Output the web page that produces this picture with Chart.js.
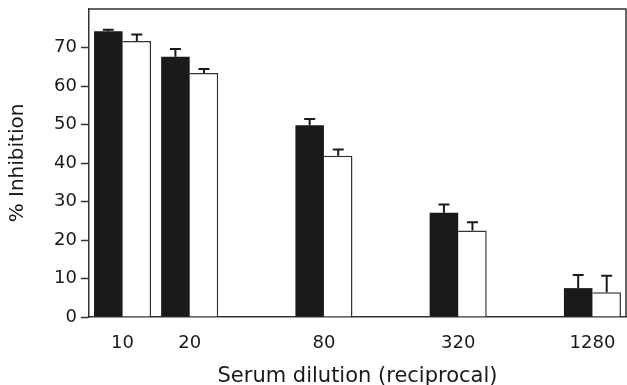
<!DOCTYPE html>
<html>
<head>
<meta charset="utf-8">
<script src="https://cdn.jsdelivr.net/npm/chart.js@4"></script>
<style>
  html, body { margin: 0; padding: 0; background: #fff; }
  #wrap { width: 627px; height: 385px; }
</style>
</head>
<body>
<div id="wrap"><canvas id="inhibChart"></canvas></div>
<script>
// dilution steps (doublings), only some were tested
const dilutions = ['10', '20', '40', '80', '160', '320', '640', '1280'];
const tested = ['10', '20', '80', '320', '1280'];

const filledVals = [74.2, 67.6, 49.8, 27.1, 7.5];
const filledErr  = [0.4, 2.0, 1.6, 2.1, 3.4];
const openVals   = [71.7, 63.4, 41.9, 22.5, 6.4];
const openErr    = [1.7, 1.0, 1.6, 2.1, 4.3];

const yTicks = [0, 10, 20, 30, 40, 50, 60, 70];

const toCats = (vals) => dilutions.map(d => {
  const i = tested.indexOf(d);
  return i >= 0 ? vals[i] : null;
});

const ink = '#1a1a1a';
const fontFam = 'DejaVu Sans';

const errorBars = {
  id: 'errorBars',
  afterDatasetsDraw: (chart) => {
    const ctx = chart.ctx;
    const yScale = chart.scales.y;
    ctx.save();
    ctx.strokeStyle = ink;
    ctx.lineWidth = 2;
    chart.data.datasets.forEach((ds, di) => {
      const meta = chart.getDatasetMeta(di);
      meta.data.forEach((bar, i) => {
        const v = ds.data[i];
        const e = ds.errors[i];
        if (v == null || e == null) return;
        const top = yScale.getPixelForValue(v + e);
        ctx.beginPath();
        ctx.moveTo(bar.x, bar.y);
        ctx.lineTo(bar.x, top);
        ctx.moveTo(bar.x - 5.5, top);
        ctx.lineTo(bar.x + 5.5, top);
        ctx.stroke();
      });
    });
    ctx.restore();
  }
};

const frame = {
  id: 'frame',
  afterDraw: (chart) => {
    const { ctx, chartArea: a } = chart;
    ctx.save();
    ctx.strokeStyle = '#333';
    ctx.lineWidth = 1.5;
    ctx.beginPath();
    ctx.moveTo(a.left, a.top);
    ctx.lineTo(a.right, a.top);
    ctx.lineTo(a.right, a.bottom);
    ctx.stroke();
    ctx.restore();
  }
};

new Chart(document.getElementById('inhibChart'), {
  type: 'bar',
  data: {
    labels: dilutions,
    datasets: [{
      label: 'filled',
      data: toCats(filledVals),
      errors: toCats(filledErr),
      backgroundColor: ink,
      borderColor: ink,
      borderWidth: 0
    }, {
      label: 'open',
      data: toCats(openVals),
      errors: toCats(openErr),
      backgroundColor: '#fff',
      borderColor: '#333',
      borderWidth: { top: 1.5, right: 1.5, left: 0, bottom: 0 },
      borderSkipped: false
    }]
  },
  options: {
    responsive: true,
    maintainAspectRatio: false,
    animation: false,
    layout: { padding: { top: 9, right: 1, left: 6, bottom: -4 } },
    plugins: {
      legend: { display: false },
      tooltip: { enabled: false }
    },
    datasets: {
      bar: { barPercentage: 1, categoryPercentage: 0.85 }
    },
    scales: {
      x: {
        grid: { display: false },
        border: { display: true, color: '#333', width: 1.5 },
        ticks: {
          color: ink,
          font: { family: fontFam, size: 18 },
          maxRotation: 0,
          autoSkip: false,
          padding: 8,
          callback: function (v, i) {
            const lab = dilutions[i];
            return tested.includes(lab) ? lab : '';
          }
        },
        title: {
          display: true,
          text: 'Serum dilution (reciprocal)',
          color: ink,
          font: { family: fontFam, size: 21 },
          padding: { top: 5, bottom: 0 }
        },
        afterFit: (scale) => { scale.height = 72; }
      },
      y: {
        min: 0,
        max: 80,
        afterBuildTicks: (scale) => {
          scale.ticks = yTicks.map(v => ({ value: v }));
        },
        grid: {
          drawOnChartArea: false,
          drawTicks: true,
          tickLength: 8,
          tickWidth: 1.5,
          tickColor: '#333'
        },
        border: { display: true, color: '#333', width: 1.5 },
        ticks: {
          color: ink,
          font: { family: fontFam, size: 18 },
          padding: 4
        },
        title: {
          display: true,
          text: '% Inhibition',
          color: ink,
          font: { family: fontFam, size: 20 },
          padding: { top: 0, bottom: 6 }
        },
        afterFit: (scale) => {
          scale.width = 83;
          scale.paddingTop = 0;
          scale.paddingBottom = 0;
        }
      }
    }
  },
  plugins: [errorBars, frame]
});
</script>
</body>
</html>
